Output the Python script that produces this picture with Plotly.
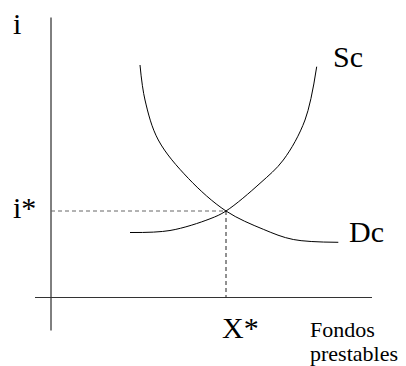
import plotly.graph_objects as go

# curve readings (horizontal: loanable funds, vertical: interest rate), origin at the axes crossing
dc_x = [89, 94, 107.3, 137.3, 175, 212.3, 242.3, 287.3]
dc_y = [232.5, 197.5, 157.5, 119.2, 86.5, 68.2, 58, 55.2]

sc_x = [79, 119, 159, 175, 209, 232.3, 254, 265.7]
sc_y = [65, 67, 78.7, 86.5, 114.2, 137.5, 177.5, 230.8]

x_star = 175
i_star = 86.5

# axis extents
x_axis = [-16, 321]
y_axis = [-33, 280]

serif = "Liberation Serif, Times New Roman, serif"

fig = go.Figure()

fig.add_trace(go.Scatter(x=[0, 0], y=y_axis, mode='lines',
                         line=dict(color='black', width=1)))
fig.add_trace(go.Scatter(x=x_axis, y=[0, 0], mode='lines',
                         line=dict(color='#333', width=1)))

fig.add_trace(go.Scatter(x=[0, x_star], y=[i_star, i_star], mode='lines',
                         line=dict(color='#666', width=1, dash='4px,3px')))
fig.add_trace(go.Scatter(x=[x_star, x_star], y=[i_star, 0], mode='lines',
                         line=dict(color='#222', width=1, dash='4px,3px')))

fig.add_trace(go.Scatter(x=dc_x, y=dc_y, mode='lines', line_shape='spline',
                         line=dict(color='black', width=1)))
fig.add_trace(go.Scatter(x=sc_x, y=sc_y, mode='lines', line_shape='spline',
                         line=dict(color='black', width=1)))

labels = [
    ("i", -39, 274.5, 30),
    ("Sc", 281, 241.5, 30),
    ("i*", -39, 90.5, 30),
    ("Dc", 297, 66.5, 30),
    ("X*", 170, -29.5, 30),
    ("Fondos", 258, -32, 22),
    ("prestables", 258, -56, 22),
]
for txt, lx, ly, size in labels:
    fig.add_annotation(x=lx, y=ly, text=txt, showarrow=False,
                       xanchor='left', yanchor='middle', borderpad=0,
                       font=dict(family=serif, size=size, color='black'))

# page body has an 8px margin, so the figure is 8px smaller and the ranges start 8px in
fig.update_layout(
    width=398, height=358,
    margin=dict(l=0, r=0, t=0, b=0),
    paper_bgcolor='white', plot_bgcolor='white',
    showlegend=False,
    xaxis=dict(range=[-43, 355], visible=False, fixedrange=True),
    yaxis=dict(range=[-68.5, 289.5], visible=False, fixedrange=True),
)

fig.write_html("out.html")
